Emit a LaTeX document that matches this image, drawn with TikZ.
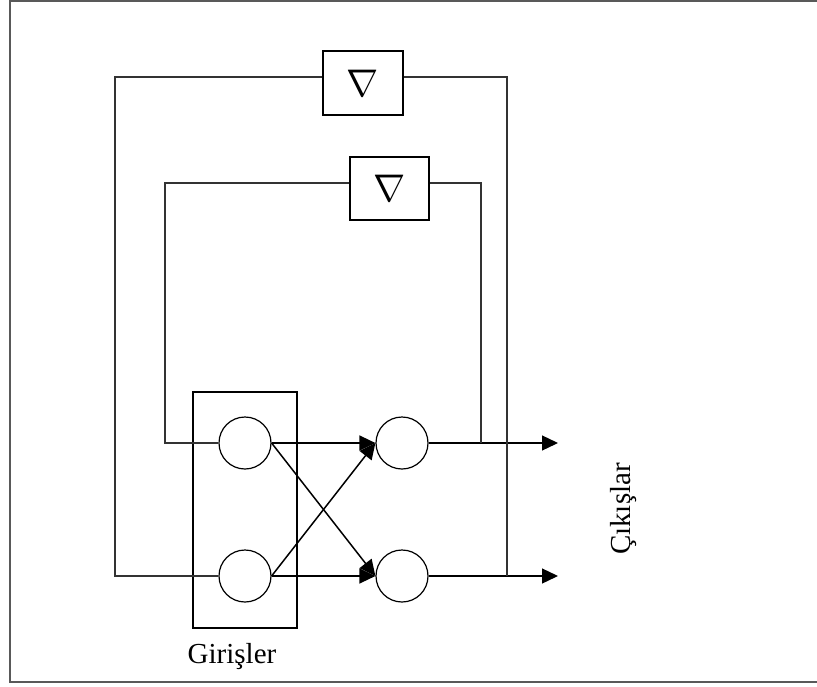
\documentclass[tikz,border=0pt]{standalone}
\usepackage{fontspec}
\usepackage{graphicx}
\setmainfont{Liberation Serif}
\usetikzlibrary{arrows.meta}
\newcommand{\dlysym}{\scalebox{1.55}{$\nabla$}}

\begin{document}
\begin{tikzpicture}[x=1pt,y=-1pt,>={Triangle[length=16pt,width=15pt]},
  wire/.style={draw=black!80,line width=1.2pt},
  neuron/.style={circle,draw,line width=1.2pt,minimum size=52pt,inner sep=0pt},
  dlybox/.style={draw,line width=1.2pt,minimum width=80pt,minimum height=64pt,inner sep=0pt},
  font=\fontsize{29}{34}\selectfont]
\useasboundingbox (0,0) rectangle (817,686);
\clip (0,0) rectangle (817,686);
%frame
\draw[black!65,line width=2pt] (10,1) rectangle (830,682);

%delay boxes
\node[dlybox] (dly1) at (363,83) {\dlysym};
\node[dlybox,minimum width=79pt,minimum height=63pt] (dly2) at (389.5,188.5) {\dlysym};

%input group
\node[draw,line width=1.2pt,minimum width=104pt,minimum height=236pt] (grp) at (245,510) {};
\node[anchor=base] (lblin) at (232,663) {Girişler};

%neurons
\node[neuron] (in1) at (245,443) {};
\node[neuron] (in2) at (245,576) {};
\node[neuron] (out1) at (402,443) {};
\node[neuron] (out2) at (402,576) {};

%outputs
\coordinate (end1) at (558,443);
\coordinate (end2) at (558,576);
\coordinate (tap1) at (481,443);
\coordinate (tap2) at (507,576);
\node[anchor=base,rotate=90] (lblout) at (630,509) {Çıkışlar};

\draw[->,line width=1.5pt] (in1.east) -- (out1.west);
\draw[->,line width=1.5pt] (in1.east) -- (out2.west);
\draw[->,line width=1.5pt] (in2.east) -- (out1.west);
\draw[->,line width=1.5pt] (in2.east) -- (out2.west);
\draw[->,line width=1.3pt] (out1.east) -- (end1);
\draw[->,line width=1.3pt] (out2.east) -- (end2);

%feedback loops
\draw[wire] (tap1) |- ([yshift=5.5pt]dly2.east);
\draw[wire] ([yshift=5.5pt]dly2.west) -| (165,443) -- (in1.west);
\draw[wire] (tap2) |- ([yshift=6pt]dly1.east);
\draw[wire] ([yshift=6pt]dly1.west) -| (115,576) -- (in2.west);
\end{tikzpicture}
\end{document}
